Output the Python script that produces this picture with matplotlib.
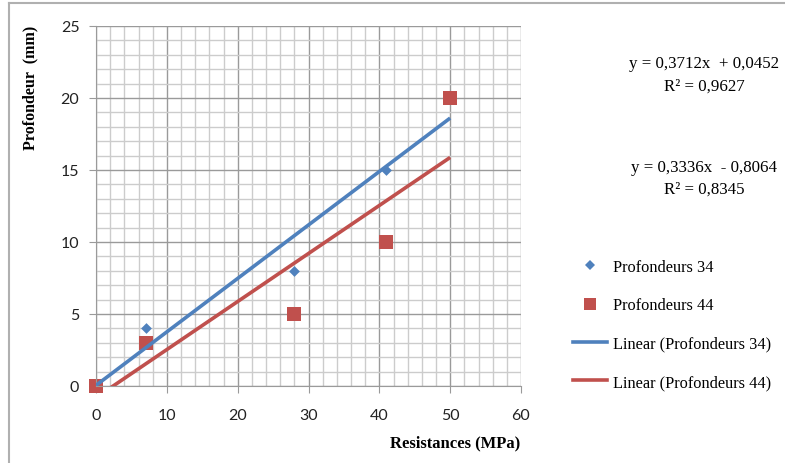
import numpy as np
import matplotlib
matplotlib.use("Agg")
import matplotlib.pyplot as plt
from matplotlib.lines import Line2D

# data
resist = [0, 7, 28, 41, 50]
prof34 = [0, 4, 8, 15, 20]
prof44 = [0, 3, 5, 10, 20]
names = ["Profondeurs 34", "Profondeurs 44"]

blue = "#4F81BD"
red = "#C0504D"


def fit(x, y):
    a, b = np.polyfit(x, y, 1)
    yp = a * np.asarray(x) + b
    y = np.asarray(y, dtype=float)
    r2 = 1 - ((y - yp) ** 2).sum() / ((y - y.mean()) ** 2).sum()
    return a, b, r2


def fmt(v):
    return ("%.4f" % v).replace(".", ",")


fig = plt.figure(figsize=(7.85, 4.64), dpi=100)
ax = fig.add_axes([96 / 785, 1 - 387 / 464, 425 / 785, 360 / 464])

ax.scatter(resist, prof34, marker="D", s=30, color=blue, zorder=2, linewidths=0, clip_on=False)
ax.scatter(resist, prof44, marker="s", s=95, color=red, zorder=2, linewidths=0, clip_on=False)

xs = np.array([min(resist), max(resist)])
fits = []
for y, c, z in [(prof34, blue, 3), (prof44, red, 4)]:
    a, b, r2 = fit(resist, y)
    fits.append((a, b, r2))
    ax.plot(xs, a * xs + b, color=c, lw=2.6, zorder=z, solid_capstyle="butt")

ax.set_xlim(0, 60)
ax.set_ylim(0, 25)
ax.set_xticks(np.arange(0, 61, 10))
ax.set_yticks(np.arange(0, 26, 5))
ax.set_xticks(np.arange(0, 61, 2), minor=True)
ax.set_yticks(np.arange(0, 26, 1), minor=True)
ax.grid(which="major", color="#9a9a9a", lw=1.0, zorder=0)
ax.grid(which="minor", color="#cccccc", lw=1.0, zorder=0)
ax.set_axisbelow(True)
for s in ["top", "right"]:
    ax.spines[s].set_visible(False)
for s in ["left", "bottom"]:
    ax.spines[s].set_color("#9a9a9a")
ax.tick_params(which="major", length=5, color="#9a9a9a", labelsize=11.5,
               labelcolor="#222222")
ax.tick_params(axis="x", pad=11)
ax.tick_params(axis="y", pad=7)
ax.tick_params(which="minor", length=0)
for lab in ax.get_xticklabels() + ax.get_yticklabels():
    lab.set_family("Lato")

fig.text(455 / 785, 1 - 443 / 464, "Resistances (MPa)", ha="center", va="center",
         family="Liberation Serif", weight="bold", fontsize=12)
fig.text(30 / 785, 1 - 88 / 464, "Profondeur  (mm)", ha="center", va="center",
         rotation=90, family="Liberation Serif", weight="bold", fontsize=11.5)

# trendline equations
eq_y = [(64, 87), (168, 190)]
for (a, b, r2), (y1, y2) in zip(fits, eq_y):
    sign = "+ " if b >= 0 else "- "
    fig.text(704 / 785, 1 - y1 / 464, "y = %sx  %s%s" % (fmt(a), sign, fmt(abs(b))),
             ha="center", va="center", family="Liberation Serif", fontsize=12.2)
    fig.text(704 / 785, 1 - y2 / 464, "R² = %s" % fmt(r2),
             ha="center", va="center", family="Liberation Serif", fontsize=12.2)

handles = [
    Line2D([], [], ls="none", marker="D", ms=5.5, color=blue, mew=0),
    Line2D([], [], ls="none", marker="s", ms=9, color=red, mew=0),
    Line2D([], [], color=blue, lw=2.6),
    Line2D([], [], color=red, lw=2.6),
]
labels = names + ["Linear (%s)" % n for n in names]
fig.legend(handles, labels, loc="upper left", bbox_to_anchor=(565 / 785, 1 - 252 / 464),
           frameon=False, borderpad=0, labelspacing=1.36, handlelength=2.05,
           handletextpad=0.35, prop={"family": "Liberation Serif", "size": 11.8})

# outer frame of the chart
fig.add_artist(Line2D([9 / 785, 9 / 785], [0, 1 - 4 / 464], color="#b0b0b0", lw=1.5))
fig.add_artist(Line2D([9 / 785, 1], [1 - 4 / 464, 1 - 4 / 464], color="#b0b0b0", lw=1.5))

fig.savefig("out.png", dpi=100)
